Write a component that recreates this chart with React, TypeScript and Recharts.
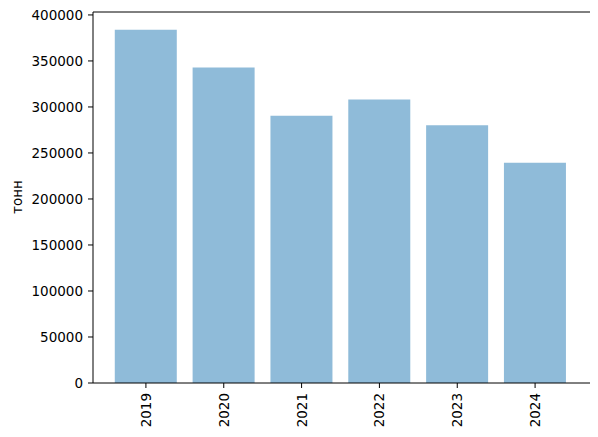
import { BarChart, Bar, XAxis, YAxis, ReferenceLine } from "recharts";

const years = ["2019", "2020", "2021", "2022", "2023", "2024"];
const tonnes = [384000, 343000, 290500, 308000, 280000, 239500];
const yTicks = [0, 50000, 100000, 150000, 200000, 250000, 300000, 350000, 400000];

const data = years.map((y, i) => ({ year: y, value: tonnes[i] }));
const yMax = Math.max(...tonnes) * 1.05;

const font = "'DejaVu Sans', sans-serif";

function YearTick(props: any) {
  const { x, y, payload } = props;
  return (
    <text
      x={x}
      y={y}
      transform={`rotate(-90 ${x} ${y})`}
      textAnchor="end"
      dominantBaseline="central"
      fontSize={13.5}
      fontFamily={font}
      fill="#000"
    >
      {payload.value}
    </text>
  );
}

export default function App() {
  return (
    <div style={{ position: "absolute", left: 0, top: 0, background: "#fff" }}>
      <BarChart
        width={598}
        height={437}
        data={data}
        margin={{ top: 12, right: 8, bottom: 0, left: 0 }}
        barCategoryGap="10%"
      >
        <XAxis
          dataKey="year"
          height={54}
          padding={{ left: 14, right: 16 }}
          tick={<YearTick />}
          tickSize={5}
          tickMargin={5}
          interval={0}
          axisLine={{ stroke: "#000" }}
          tickLine={{ stroke: "#000" }}
        />
        <YAxis
          width={93}
          domain={[0, yMax]}
          ticks={yTicks}
          tickSize={5}
          tickMargin={5}
          interval={0}
          allowDataOverflow
          axisLine={{ stroke: "#000" }}
          tickLine={{ stroke: "#000" }}
          tick={{ fill: "#000", fontSize: 13.5, fontFamily: font }}
          label={{
            value: "тонн",
            content: () => (
              <text
                x={17}
                y={197}
                transform="rotate(-90 17 197)"
                textAnchor="middle"
                dominantBaseline="central"
                fontSize={13.5}
                fontFamily={font}
                fill="#000"
              >
                тонн
              </text>
            ),
          }}
        />
        <YAxis
          yAxisId="right"
          orientation="right"
          width={0}
          tick={false}
          tickLine={false}
          axisLine={{ stroke: "#000" }}
        />
        <ReferenceLine y={yMax} stroke="#000" ifOverflow="extendDomain" />
        <Bar dataKey="value" fill="#1f77b4" fillOpacity={0.5} isAnimationActive={false} />
      </BarChart>
    </div>
  );
}
